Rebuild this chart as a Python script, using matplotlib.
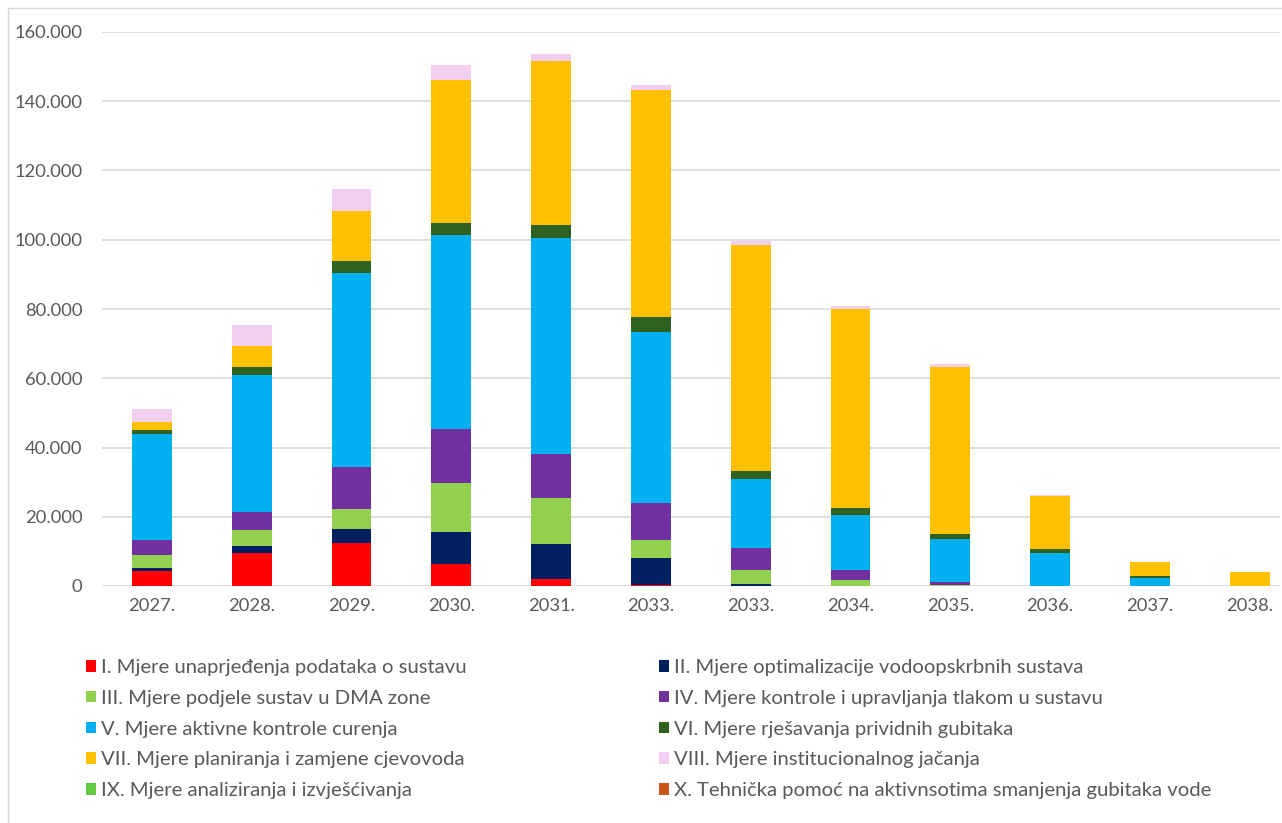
import matplotlib
matplotlib.use("Agg")
import matplotlib.pyplot as plt
from matplotlib.patches import Patch, Rectangle
from matplotlib.ticker import FuncFormatter
import numpy as np

years = ["2027.", "2028.", "2029.", "2030.", "2031.", "2033.", "2033.",
         "2034.", "2035.", "2036.", "2037.", "2038."]

s_I = [4400, 9400, 12400, 6350, 1900, 300, 0, 0, 0, 0, 0, 0]
s_II = [900, 2100, 4000, 9300, 10200, 7900, 500, 0, 0, 0, 0, 0]
s_III = [3700, 4800, 5800, 14100, 13400, 5000, 4200, 1700, 400, 0, 0, 0]
s_IV = [4400, 5100, 12100, 15500, 12700, 10800, 6400, 2900, 800, 0, 0, 0]
s_V = [30500, 39400, 56100, 56100, 62400, 49500, 19700, 15900, 12300, 9500, 2400, 0]
s_VI = [1200, 2400, 3500, 3500, 3700, 4200, 2400, 2100, 1400, 1200, 500, 0]
s_VII = [2400, 6100, 14400, 41200, 47300, 65500, 65200, 57500, 48400, 15400, 3900, 4000]
s_VIII = [3700, 6100, 6400, 4400, 2000, 1400, 1300, 800, 800, 200, 0, 0]
s_IX = [0, 0, 0, 0, 0, 0, 0, 0, 0, 0, 0, 0]
s_X = [0, 0, 0, 0, 0, 0, 0, 0, 0, 0, 0, 0]

names = [
    "I. Mjere unaprjeđenja podataka o sustavu",
    "II. Mjere optimalizacije vodoopskrbnih sustava",
    "III. Mjere podjele sustav u DMA zone",
    "IV. Mjere kontrole i upravljanja tlakom u sustavu",
    "V. Mjere aktivne kontrole curenja",
    "VI. Mjere rješavanja prividnih gubitaka",
    "VII. Mjere planiranja i zamjene cjevovoda",
    "VIII. Mjere institucionalnog jačanja",
    "IX. Mjere analiziranja i izvješćivanja",
    "X. Tehnička pomoć na aktivnsotima smanjenja gubitaka vode",
]
series = [s_I, s_II, s_III, s_IV, s_V, s_VI, s_VII, s_VIII, s_IX, s_X]
colors = ["#FF0000", "#002060", "#92D050", "#7030A0", "#00B0F0",
          "#2F6120", "#FFC000", "#F2CEEF", "#66C944", "#C8561B"]

plt.rcParams['font.family'] = ['Lato', 'DejaVu Sans']
txt = "#595959"

W, H = 1282, 823
fig = plt.figure(figsize=(W / 100, H / 100), dpi=100)
# outer chart border
fig.patches.append(Rectangle((8 / W, -0.1), 1.2, (H - 8) / H + 0.1,
                             transform=fig.transFigure, fill=False,
                             edgecolor="#D9D9D9", linewidth=1))

left, right, top, bottom = 102, 1280, 32, 586
ax = fig.add_axes([left / W, 1 - bottom / H, (right - left) / W, (bottom - top) / H])

x = np.arange(len(years))
base = np.zeros(len(years))
for vals, c, n in zip(series, colors, names):
    v = np.array(vals, dtype=float)
    ax.bar(x, v, 0.4, bottom=base, color=c, label=n, zorder=3)
    base += v

ax.set_ylim(0, 160000)
ax.set_xlim(-0.5, -0.5 + (right - left) / 99.8)
ax.set_yticks(np.arange(0, 160001, 20000))
ax.yaxis.set_major_formatter(FuncFormatter(lambda v, p: f"{int(v):,}".replace(",", ".")))
ax.set_xticks(x)
ax.set_xticklabels(years)
ax.grid(axis='y', color="#D9D9D9", linewidth=1.2, zorder=0)
for sp in ax.spines.values():
    sp.set_visible(False)
ax.tick_params(axis='both', length=0, labelsize=13.2, colors=txt)
ax.tick_params(axis='y', pad=14)
ax.tick_params(axis='x', pad=8.5)

handles = [Patch(facecolor=c, edgecolor='none') for c in colors]
col1 = [0, 2, 4, 6, 8]
col2 = [1, 3, 5, 7, 9]
for idx, xa in ((col1, 86), (col2, 659)):
    leg = fig.legend([handles[i] for i in idx], [names[i] for i in idx],
                     loc="upper left", bbox_to_anchor=(xa / W, 1 - 659 / H),
                     frameon=False, fontsize=14.6, labelcolor=txt,
                     handlelength=0.5, handleheight=0.5, handletextpad=0.25,
                     labelspacing=0.68, borderaxespad=0, borderpad=0)

fig.savefig("out.png", dpi=100)
